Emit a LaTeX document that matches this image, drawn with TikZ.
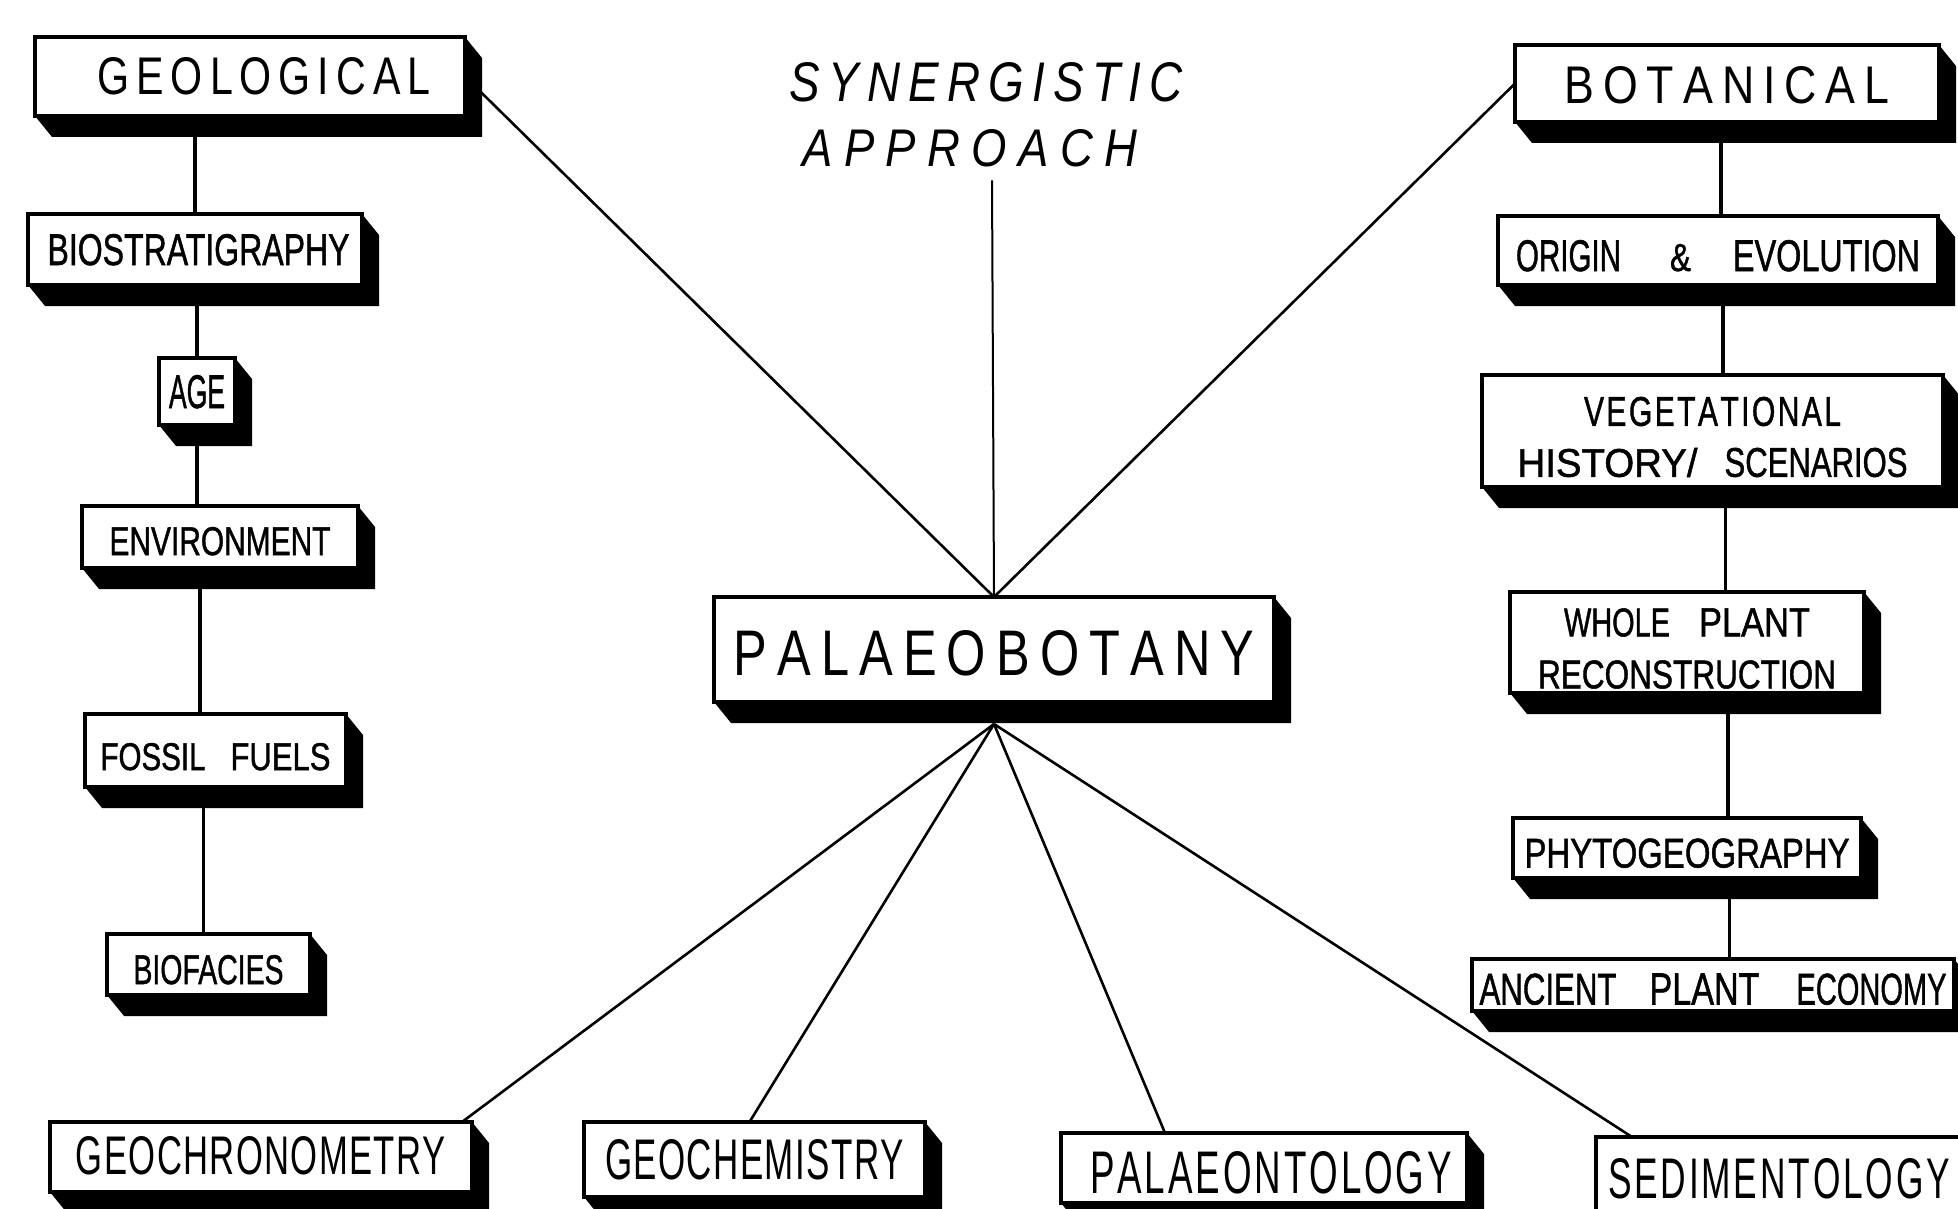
\documentclass[tikz,border=0pt]{standalone}
\usepackage{fontspec}
\setmainfont{Liberation Sans}
\newfontfamily\medfont[FakeBold=1.3]{Liberation Sans}
\usepackage{graphicx}
\usetikzlibrary{calc}
\pgfdeclarelayer{bg}
\pgfsetlayers{bg,main}
\newcommand\R[3]{\resizebox{#1pt}{#2pt}{#3}}
\newcommand\B[3]{\resizebox{#1pt}{#2pt}{\medfont #3}}
\let\endspc\relax
\newcommand\spc[2]{\def\lspk{#1}\spcB#2\endspc}
\def\spcB#1#2\endspc{#1\if\relax\detokenize{#2}\relax\else\kern\lspk\spcB#2\endspc\fi}
\newcommand\shad[1]{\fill (#1.south west) -- ++(17pt,-21pt) -- ([shift={(17pt,-21pt)}]#1.south east) -- ([shift={(17pt,-21pt)}]#1.north east) -- (#1.north east) -- (#1.south east) -- cycle;}
\tikzset{
  bx/.style={draw, line width=3.5pt, fill=white, inner sep=0pt, outer sep=0pt, rectangle, font=\fontsize{20}{24}\selectfont},
  cn/.style={line width=2.6pt},
  vl/.style={line width=3.5pt},
}
\begin{document}
\begin{tikzpicture}[x=1pt,y=-1pt]
\useasboundingbox (0,0) rectangle (1958,1209);
% left column
\node[bx, minimum width=430pt, minimum height=79pt, text height=37pt, text depth=0pt] (geo) at (250,76.5) {\hspace*{28pt}\R{333}{37}{\spc{0.17em}{GEOLOGICAL}}};
\node[bx, minimum width=334pt, minimum height=71pt, text height=31pt, text depth=0pt] (bio) at (195,249.5) {\hspace*{7pt}\B{302}{31}{BIOSTRATIGRAPHY}};
\node[bx, minimum width=76pt, minimum height=67pt, text height=33pt, text depth=0pt] (age) at (197,391.5) {\B{56}{33}{AGE}};
\node[bx, minimum width=276pt, minimum height=62pt, text height=36pt, text depth=0pt] (env) at (220,537) {\B{221}{28}{ENVIRONMENT}};
\node[bx, minimum width=261pt, minimum height=73pt, text height=39pt, text depth=0pt] (fossil) at (215.5,750.5) {\B{105}{27}{FOSSIL}\hspace{25pt}\B{100}{27}{FUELS}};
\node[bx, minimum width=203pt, minimum height=61pt, text height=39pt, text depth=0pt] (biofac) at (208.5,964.5) {\B{150}{29}{BIOFACIES}};
% right column
\node[bx, minimum width=424pt, minimum height=77pt, text height=41pt, text depth=0pt] (bot) at (1727,83.5) {\R{325}{37}{\spc{0.2em}{BOTANICAL}}};
\node[bx, minimum width=440pt, minimum height=69pt, text height=41pt, text depth=0pt] (origin) at (1718,250.5) {\B{105}{31}{ORIGIN}\hspace{49pt}\B{21}{27}{\&}\hspace{42pt}\B{187}{31}{EVOLUTION}};
\node[bx, minimum width=461pt, minimum height=112pt, align=center, font=\fontsize{20}{51}\selectfont] (veg) at (1712.5,431) {\rule{0pt}{41pt}\B{257}{29}{\spc{0.08em}{VEGETATIONAL}}\\\B{180}{29}{HISTORY/}\hspace{27pt}\B{183}{29}{SCENARIOS}};
\node[bx, minimum width=354pt, minimum height=101pt, align=center, font=\fontsize{20}{52}\selectfont] (whole) at (1687,642.5) {\rule{0pt}{40pt}\B{106}{28}{WHOLE}\hspace{29pt}\B{111}{28}{PLANT}\\\B{298}{28}{RECONSTRUCTION}};
\node[bx, minimum width=348pt, minimum height=60pt, text height=39pt, text depth=0pt] (phyto) at (1687,848) {\B{325}{29}{PHYTOGEOGRAPHY}};
\node[bx, minimum width=482pt, minimum height=52pt, text height=39pt, text depth=0pt] (ancient) at (1713,985) {\B{137}{31}{ANCIENT}\hspace{33pt}\B{110}{31}{PLANT}\hspace{37pt}\B{150}{31}{ECONOMY}};
% centre
\node[inner sep=0pt, align=center, font=\fontsize{20}{65}\selectfont\itshape] (syn) at (986,115) {\R{393}{39}{\spc{0.18em}{SYNERGISTIC}}\\\R{335}{37}{\spc{0.25em}{APPROACH}}\rule{32pt}{0pt}};
\node[bx, minimum width=560pt, minimum height=105pt, text height=51pt, text depth=0pt] (palaeo) at (994,649.5) {\R{521}{45}{\spc{0.2em}{PALAEOBOTANY}}};
% bottom row
\node[bx, minimum width=422pt, minimum height=70pt, text height=34pt, text depth=0pt] (geochron) at (261,1157) {\R{370}{38}{\spc{0.04em}{GEOCHRONOMETRY}}};
\node[bx, minimum width=341pt, minimum height=75pt, text height=40pt, text depth=0pt] (geochem) at (754.5,1159.5) {\R{299}{40}{\spc{0.04em}{GEOCHEMISTRY}}};
\node[bx, minimum width=406pt, minimum height=70pt, text height=51pt, text depth=0pt] (palaeont) at (1264,1168) {\hspace*{14pt}\R{362}{42}{\spc{0.08em}{PALAEONTOLOGY}}};
\node[bx, minimum width=379pt, minimum height=78pt, text height=44pt, text depth=0pt] (sedi) at (1785.5,1176) {\R{342}{40}{\spc{0.08em}{SEDIMENTOLOGY}}\rule{13pt}{0pt}};
% shadows
\foreach \n in {geo,bio,age,env,fossil,biofac,bot,origin,veg,whole,phyto,ancient,palaeo,geochron,geochem,palaeont,sedi}{\shad{\n}}
\coordinate (hub) at ([yshift=-22pt]palaeo.south);
\begin{pgfonlayer}{bg}
\fill[white] (0,0) rectangle (1958,1209);
\draw[cn] (geo.east) -- (palaeo.north);
\draw[cn] (bot.west) -- (palaeo.north);
\draw[line width=2pt] ([xshift=6pt,yshift=-13pt]syn.south) -- (palaeo.north);
\draw[cn] (hub) -- ([xshift=-10pt]geochron.north east);
\draw[cn] (hub) -- ([xshift=-5pt]geochem.north);
\draw[cn] (hub) -- ([xshift=-99pt]palaeont.north);
\draw[cn] (hub) -- ([xshift=36pt]sedi.north west);
\draw[vl] (geo.south -| bio.north) -- (bio.north);
\draw[vl] (bio.south -| age.north) -- (age.north);
\draw[vl] (age.south) -- (age.south |- env.north);
\draw[vl] ($(env.south)+(-20pt,0)$) -- ($(env.south |- fossil.north)+(-20pt,0)$);
\draw[vl] ($(fossil.south)+(-12pt,0)$) -- ($(fossil.south |- biofac.north)+(-12pt,0)$);
\draw[vl] ($(bot.south)+(-6pt,0)$) -- ($(bot.south |- origin.north)+(-6pt,0)$);
\draw[vl] ($(origin.south)+(5pt,0)$) -- ($(origin.south |- veg.north)+(5pt,0)$);
\draw[vl] ($(veg.south)+(13pt,0)$) -- ($(veg.south |- whole.north)+(13pt,0)$);
\draw[vl] ($(whole.south)+(41pt,0)$) -- ($(whole.south |- phyto.north)+(41pt,0)$);
\draw[vl] ($(phyto.south)+(42.5pt,0)$) -- ($(phyto.south |- ancient.north)+(42.5pt,0)$);
\end{pgfonlayer}
\end{tikzpicture}
\end{document}
